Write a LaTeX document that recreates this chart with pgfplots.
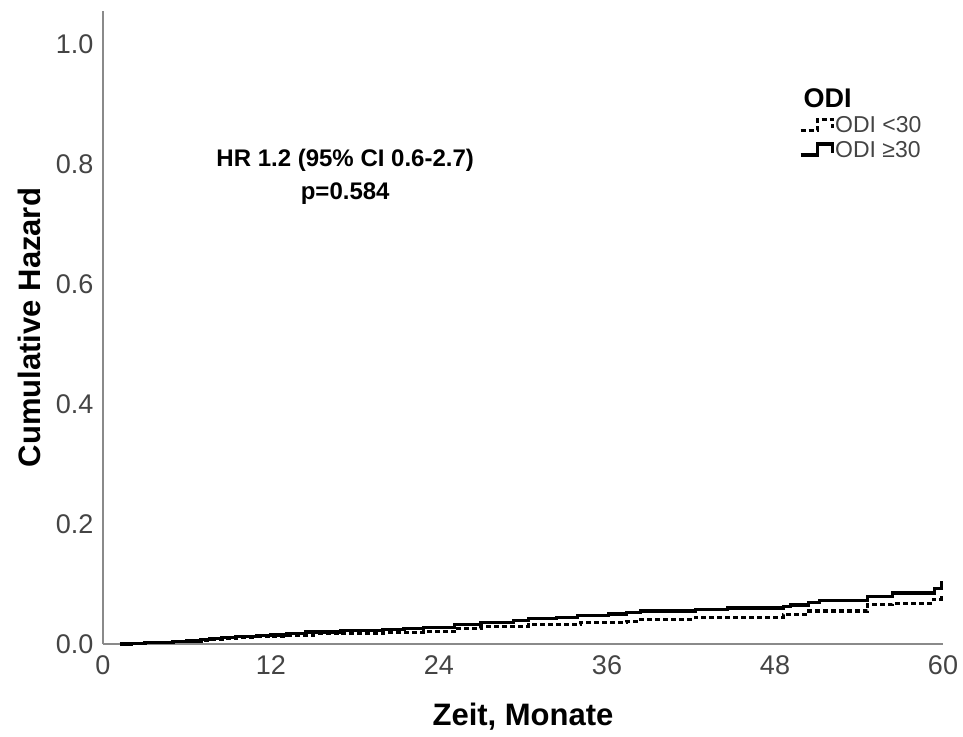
\documentclass[border=0pt]{standalone}
\usepackage{fontspec}
\setmainfont{Liberation Sans}
\usepackage{pgfplots}
\pgfplotsset{compat=1.18}
\definecolor{axgray}{HTML}{8A8A8A}
\definecolor{tickgray}{HTML}{444444}
\begin{document}
\begin{tikzpicture}[x=1pt,y=1pt]
\begin{axis}[
  at={(0,0)}, anchor=origin,
  scale only axis, width=840pt, height=633pt,
  xmin=0, xmax=60, ymin=0, ymax=1.055,
  axis x line=bottom, axis y line=left,
  axis line style={axgray, line width=1.2pt, -},
  xtick={0,12,24,36,48,60},
  ytick={0,0.2,0.4,0.6,0.8,1.0},
  major tick length=0pt,
  yticklabel style={/pgf/number format/fixed, /pgf/number format/fixed zerofill, /pgf/number format/precision=1, xshift=-6pt},
  xticklabel style={yshift=-8pt},
  /pgf/number format/assume math mode=true,
  tick label style={font=\fontsize{27}{30}\selectfont, text=tickgray},
  xlabel={\textbf{Zeit, Monate}},
  ylabel={\textbf{Cumulative Hazard}},
  label style={font=\fontsize{31}{34}\selectfont},
  xlabel style={yshift=-22pt},
  ylabel style={yshift=8pt},
  clip=false,
  legend style={at={(axis cs:49.7,0.881)}, anchor=north west, draw=none, fill=none,
    font=\fontsize{23}{25}\selectfont, text=tickgray, row sep=5pt,
    inner sep=0pt, nodes={inner sep=1pt}},
  legend cell align=left,
  legend image code/.code={\draw[#1] (0pt,-5pt) -- (17pt,-5pt) -- (17pt,6pt) -- (32pt,6pt) -- (32pt,-3pt);},
]
\addplot[const plot, black, line width=3.2pt, dash pattern=on 5pt off 3pt] coordinates {
(1.2,0) (2,0.001) (3,0.002) (4,0.003) (5,0.004) (6,0.005) (7,0.006) (7.6,0.008) (8.5,0.010) (9.5,0.011) (11,0.012) (12,0.013) (13.1,0.015) (15,0.017) (17,0.018) (20,0.019) (22.9,0.021) (25.1,0.026) (27,0.029) (30.4,0.033) (34.1,0.036) (37.4,0.038) (38.4,0.041) (42.3,0.044) (48.6,0.049) (50.4,0.055) (54.6,0.066) (56.4,0.068) (59.3,0.074) (59.9,0.078) (60,0.078)
};
\addlegendentry{ODI <30}
\addplot[const plot, black, line width=3.2pt] coordinates {
(1.2,0) (2,0.001) (3,0.002) (4,0.003) (5,0.004) (6,0.005) (7,0.007) (7.6,0.009) (8.5,0.011) (9.5,0.012) (11,0.014) (12,0.015) (13.1,0.018) (14.5,0.020) (17,0.022) (20,0.024) (21.5,0.026) (22.9,0.028) (25.1,0.032) (27,0.036) (29.3,0.039) (30.4,0.042) (32.4,0.044) (33.9,0.047) (36.1,0.050) (37.4,0.052) (38.4,0.055) (42.3,0.057) (44.6,0.060) (48.6,0.062) (49.1,0.065) (50.4,0.069) (51.2,0.072) (54.6,0.079) (56.4,0.085) (59.4,0.093) (59.9,0.103) (60,0.103)
};
\addlegendentry{ODI ≥30}
\node[font=\bfseries\fontsize{27}{30}\selectfont, anchor=west] at (axis cs:49.8,0.91) {ODI};
\node[font=\bfseries\fontsize{24}{33}\selectfont, align=center] at (axis cs:17.3,0.778) {HR 1.2 (95\% CI 0.6-2.7)\\p=0.584};
\end{axis}
\useasboundingbox (-103,-92) rectangle (860,644);
\end{tikzpicture}
\end{document}
